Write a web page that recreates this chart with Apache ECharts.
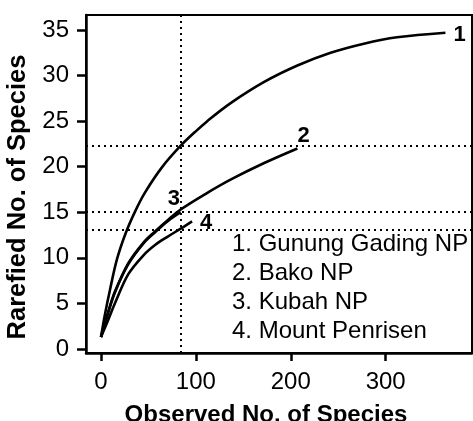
<!DOCTYPE html>
<html>
<head>
<meta charset="utf-8">
<script src="https://cdn.jsdelivr.net/npm/echarts@6/dist/echarts.min.js"></script>
<style>html,body{margin:0;padding:0;background:#fff}#c{width:473px;height:421px}</style>
</head>
<body>
<div id="c"></div>
<script>
// ---- data ----
const siteNames = ['Gunung Gading NP', 'Bako NP', 'Kubah NP', 'Mount Penrisen'];
const xTicks = [0, 100, 200, 300];
const yTicks = [0, 5, 10, 15, 20, 25, 30, 35];
const refX = [84];
const refY = [22.3, 15.0, 13.1];
const gunungGading = [[0,1.3],[4,3.7],[9.5,6.5],[17,9.9],[26,12.7],[36,15.1],[46,17.1],[64,19.9],[84,22.3],[99,23.8],[112,25.0],[137,27.0],[172,29.3],[207,31.1],[242,32.5],[277,33.5],[312,34.2],[363,34.7]];
const bako = [[0,1.3],[7.7,4.0],[14.7,6.2],[28.8,9.4],[45,11.7],[57,12.9],[70,14.1],[84,15.3],[110,17.0],[137,18.6],[172,20.4],[207,22.0]];
const kubah = [[0,1.3],[7.7,4.1],[14.7,6.3],[28.8,9.3],[45,11.6],[57,12.8],[70,14.0],[84,15.0]];
const penrisen = [[0,1.3],[7.7,3.2],[14.7,5.0],[28.8,8.2],[45,10.3],[57,11.4],[70,12.3],[84,13.2],[96,14.0]];

const FONT = 'Liberation Sans, Arial, sans-serif';
const chart = echarts.init(document.getElementById('c'), null, {renderer: 'canvas'});

const labelOffsets = [[0, 2], [-8, -13], [-21, -13], [0, 2]];
const seriesData = [gunungGading, bako, kubah, penrisen];

const series = seriesData.map((d, i) => ({
  type: 'line',
  data: d,
  smooth: 0.35,
  showSymbol: false,
  symbol: 'none',
  lineStyle: {color: '#000', width: 2.6},
  endLabel: {
    show: true,
    formatter: String(i + 1),
    fontFamily: FONT,
    fontWeight: 'bold',
    fontSize: 22,
    color: '#000',
    offset: labelOffsets[i]
  },
  silent: true,
  animation: false,
  z: 3
}));

series.push({
  type: 'line',
  data: [],
  silent: true,
  animation: false,
  markLine: {
    silent: true,
    animation: false,
    symbol: 'none',
    label: {show: false},
    lineStyle: {color: '#000', width: 2, type: [2, 4]},
    data: refX.map(v => ({xAxis: v})).concat(refY.map(v => ({yAxis: v})))
  }
});

chart.setOption({
  animation: false,
  backgroundColor: '#fff',
  grid: {left: 86, top: 15, right: 1, bottom: 68, show: true, borderColor: '#000', borderWidth: 2, containLabel: false, outerBoundsMode: 'none'},
  xAxis: {
    type: 'value',
    min: -15.8,
    max: 391,
    name: 'Observed No. of Species',
    nameLocation: 'middle',
    nameGap: 50,
    nameTextStyle: {fontFamily: FONT, fontWeight: 'bold', fontSize: 24, color: '#000', padding: [0, 26, 0, 0]},
    splitLine: {show: false},
    axisLine: {show: true, onZero: false, lineStyle: {color: '#000', width: 2.5}},
    axisTick: {show: true, customValues: xTicks, length: 8, lineStyle: {color: '#000', width: 2.5}},
    axisLabel: {customValues: xTicks, fontFamily: FONT, fontSize: 24, color: '#000', margin: 17}
  },
  yAxis: {
    type: 'value',
    min: -0.45,
    max: 36.65,
    name: 'Rarefied No. of Species',
    nameLocation: 'middle',
    nameGap: 46,
    nameRotate: 90,
    nameTextStyle: {fontFamily: FONT, fontWeight: 'bold', fontSize: 25.5, color: '#000', padding: [0, 26, 0, 0]},
    splitLine: {show: false},
    axisLine: {show: true, onZero: false, lineStyle: {color: '#000', width: 2.5}},
    axisTick: {show: true, customValues: yTicks, length: 9, lineStyle: {color: '#000', width: 2.5}},
    axisLabel: {customValues: yTicks, fontFamily: FONT, fontSize: 24, color: '#000', margin: 17}
  },
  graphic: siteNames.map((n, i) => ({
    type: 'text',
    left: 232,
    top: 232 + i * 29,
    silent: true,
    style: {text: (i + 1) + '. ' + n, fontFamily: FONT, fontSize: 24, fill: '#000'}
  })),
  series: series
});
</script>
</body>
</html>
